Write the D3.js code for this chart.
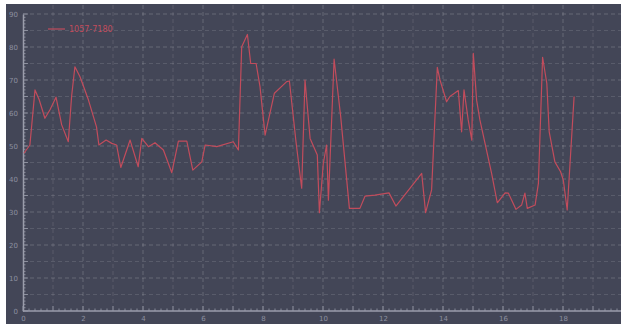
<!DOCTYPE html>
<html>
<head>
<meta charset="utf-8">
<script src="https://cdn.jsdelivr.net/npm/d3@7/dist/d3.min.js"></script>
<style>
  html, body { margin: 0; padding: 0; background: #ffffff; }
  svg { display: block; }
</style>
</head>
<body>
<svg id="chart" width="626" height="324"></svg>
<script>
// Series: sample position and reading
const seriesName = "1057-7180";
const xs = [0.03, 0.23, 0.4, 0.54, 0.73, 0.9, 1.1, 1.29, 1.51, 1.62, 1.73, 1.9, 2.18, 2.45, 2.53,
  2.77, 2.96, 3.12, 3.26, 3.57, 3.84, 3.96, 4.18, 4.4, 4.68, 4.96, 5.18, 5.46, 5.66, 5.96,
  6.07, 6.46, 7.01, 7.18, 7.29, 7.48, 7.59, 7.77, 7.9, 8.07, 8.38, 8.79, 8.88, 9.1, 9.29,
  9.4, 9.57, 9.81, 9.88, 10.01, 10.12, 10.18, 10.37, 10.59, 10.88, 11.23, 11.4, 11.73, 12.2,
  12.43, 13.29, 13.42, 13.62, 13.81, 13.9, 14.12, 14.23, 14.51, 14.62, 14.7, 14.84, 14.96,
  15.01, 15.12, 15.23, 15.62, 15.81, 16.07, 16.18, 16.43, 16.62, 16.73, 16.81, 17.07, 17.18,
  17.32, 17.46, 17.54, 17.73, 17.92, 18.01, 18.14, 18.37];
const ys = [47.8, 50.3, 67, 64, 58.4, 61, 64.8, 56.4, 51.3, 65, 74, 71, 64, 55.8, 50.3,
  51.8, 50.8, 50.3, 43.5, 51.8, 43.7, 52.3, 49.8, 51, 48.8, 41.9, 51.5, 51.5, 42.7, 45.2,
  50.3, 49.8, 51.3, 48.8, 80.1, 83.8, 75, 75, 68, 53.3, 66, 69.5, 69.7, 51.3, 37.2,
  70, 52.3, 47.3, 29.8, 44.7, 50.3, 33.6, 76.3, 58.9, 31.1, 31.1, 34.8, 35.1, 35.8,
  31.8, 41.7, 29.8, 36.7, 73.8, 70, 63.4, 65, 66.8, 54.3, 67, 57.9, 51.8,
  78.1, 63.9, 57.9, 41.7, 32.8, 35.8, 35.7, 30.8, 32.1, 35.7, 31.1, 32.1, 38.7,
  76.9, 69, 54.3, 45.2, 42.2, 39.7, 30.6, 65];

// Axis ticks
const xTickValues = [0, 2, 4, 6, 8, 10, 12, 14, 16, 18];
const yTickValues = [0, 10, 20, 30, 40, 50, 60, 70, 80, 90];
const xGridValues = d3.range(0, 20, 1);
const yGridValues = d3.range(0, 95, 5);

const lineColor = "#c24c5c";
const svg = d3.select("#chart");

// Panel
svg.append("rect")
  .attr("x", 6).attr("y", 4).attr("width", 615).attr("height", 320)
  .attr("fill", "#434657");

const x = d3.scaleLinear().domain([0, 19.9]).range([23, 620]);
const y = d3.scaleLinear().domain([0, 90]).range([311, 14]);

// Grid
const grid = svg.append("g");
grid.selectAll(".gx").data(xGridValues.filter(v => v > 0)).join("line")
  .attr("x1", d => x(d)).attr("x2", d => x(d))
  .attr("y1", 5).attr("y2", 311)
  .attr("stroke", d => d % 2 === 0 ? "rgba(255,255,255,0.19)" : "rgba(255,255,255,0.12)")
  .attr("stroke-width", 1)
  .attr("stroke-dasharray", "4,3");
grid.selectAll(".gy").data(yGridValues.filter(v => v > 0)).join("line")
  .attr("x1", 23).attr("x2", 621)
  .attr("y1", d => y(d)).attr("y2", d => y(d))
  .attr("stroke", d => d % 10 === 0 ? "rgba(255,255,255,0.19)" : "rgba(255,255,255,0.12)")
  .attr("stroke-width", 1)
  .attr("stroke-dasharray", "4,3");

// Axes
const axisColor = "#9a9dab";
const xAxis = svg.append("g").attr("transform", "translate(0,311)")
  .call(d3.axisBottom(x).tickValues(xTickValues).tickSize(0).tickPadding(5).tickFormat(d3.format("d")));
const yAxis = svg.append("g").attr("transform", "translate(23,0)")
  .call(d3.axisLeft(y).tickValues(yTickValues).tickSize(0).tickPadding(5).tickFormat(d3.format("d")));
[xAxis, yAxis].forEach(g => {
  g.select(".domain").attr("stroke", axisColor).attr("stroke-width", 1.5);
  g.selectAll("text").attr("fill", "#8d90a0").attr("font-family", "DejaVu Sans, sans-serif").attr("font-size", 7);
});
xAxis.select(".domain").attr("d", `M23,0H621`);

// Minor ticks
svg.append("g").selectAll("line").data(d3.range(0, 19.81, 0.2)).join("line")
  .attr("x1", d => x(d)).attr("x2", d => x(d))
  .attr("y1", 311).attr("y2", d => Math.abs(d - Math.round(d)) < 1e-6 ? 306 : 308.5)
  .attr("stroke", axisColor).attr("stroke-width", 0.8);
svg.append("g").selectAll("line").data(d3.range(0, 90.5, 1)).join("line")
  .attr("x1", 23).attr("x2", d => d % 5 === 0 ? 28 : 25.5)
  .attr("y1", d => y(d)).attr("y2", d => y(d))
  .attr("stroke", axisColor).attr("stroke-width", 0.8);

// Series line
const pts = xs.map((v, i) => [v, ys[i]]);
svg.append("path")
  .datum(pts)
  .attr("fill", "none")
  .attr("stroke", lineColor)
  .attr("stroke-width", 1.2)
  .attr("stroke-linejoin", "round")
  .attr("d", d3.line().x(d => x(d[0])).y(d => y(d[1])));

// Legend
const legend = svg.append("g").attr("transform", "translate(48,29)");
legend.append("line").attr("x1", 0).attr("x2", 17).attr("y1", 0).attr("y2", 0)
  .attr("stroke", lineColor).attr("stroke-width", 1.2);
legend.append("text").attr("x", 21).attr("y", 3)
  .attr("fill", lineColor).attr("font-family", "DejaVu Sans, sans-serif").attr("font-size", 8)
  .text(seriesName);
</script>
</body>
</html>
